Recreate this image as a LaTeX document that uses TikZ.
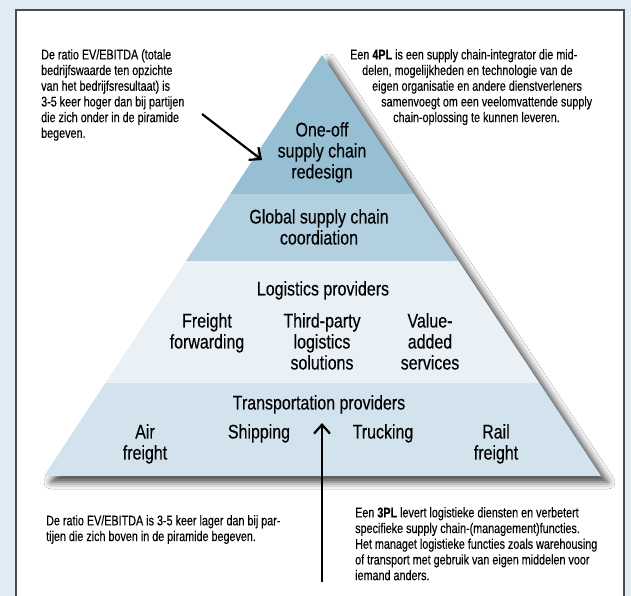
\documentclass[tikz,border=0pt]{standalone}
\usepackage{fontspec}
\setmainfont{Liberation Sans}[FakeStretch=0.77, FakeBold=0.25]
\newfontfamily\tierfont{Liberation Sans}[FakeStretch=0.81, FakeBold=0.25]
\usepackage{tikz}
\usetikzlibrary{arrows.meta,shadows.blur}

\definecolor{bgblue}{HTML}{E0ECF3}
\definecolor{tierone}{HTML}{96BFD4}
\definecolor{tiertwo}{HTML}{B3D0E1}
\definecolor{tierthree}{HTML}{E9F1F7}
\definecolor{tierfour}{HTML}{D3E3EE}

\tikzset{
  note/.style={font=\fontsize{14}{15.7}\selectfont, inner sep=0pt, align=left},
  tier/.style={font=\tierfont\fontsize{19.7}{21}\selectfont, inner sep=0pt, align=center},
  pointer/.style={-{Straight Barb[length=9pt,width=16pt]}, line width=2.2pt},
}

\begin{document}
\begin{tikzpicture}[x=1pt, y=-1pt]
  % page and frame
  \useasboundingbox[fill=bgblue] (0,0) rectangle (631,596);
  \draw[fill=white, draw=black!70, line width=1.2pt] (16,10) rectangle (624,612);
  % pyramid
  \coordinate (apex) at (322,55);
  \coordinate (bl) at (44,476);
  \coordinate (br) at (601,476);
  \path[blur shadow={shadow xshift=7pt, shadow yshift=-6pt,
    shadow blur radius=7pt, shadow opacity=75}] (apex) -- (bl) -- (br) -- cycle;
  \begin{scope}
    \clip (apex) -- (bl) -- (br) -- cycle;
    \fill[tierone] (0,40) rectangle (631,194);
    \fill[tiertwo] (0,194) rectangle (631,261);
    \fill[tierthree] (0,261) rectangle (631,383);
    \fill[tierfour] (0,383) rectangle (631,480);
  \end{scope}
  % tier labels
  \node[tier, anchor=north] (oneoff) at (322,122) {One-off\\supply chain\\redesign};
  \node[tier, anchor=north] (global) at (319,209) {Global supply chain\\coordiation};
  \node[tier, anchor=north] (logistics) at (323,281) {Logistics providers};
  \node[tier, anchor=north] (freight) at (207,313) {Freight\\forwarding};
  \node[tier, anchor=north] (thirdparty) at (322,313) {Third-party\\logistics\\solutions};
  \node[tier, anchor=north] (valueadded) at (430,313) {Value-\\added\\services};
  \node[tier, anchor=north] (transport) at (319,395) {Transportation providers};
  \node[tier, anchor=north] (air) at (145,424) {Air\\freight};
  \node[tier, anchor=north] (shipping) at (259,424) {Shipping};
  \node[tier, anchor=north] (trucking) at (383,424) {Trucking};
  \node[tier, anchor=north] (rail) at (496,424) {Rail\\freight};
  % side notes
  \node[note, anchor=north west] (evhigh) at (41,49) {De ratio EV/EBITDA (totale\\bedrijfswaarde ten opzichte\\van het bedrijfsresultaat) is\\3-5 keer hoger dan bij partijen\\die zich onder in de piramide\\begeven.};
  \node[note, anchor=north west] (fourpl) at (350,49) {Een \textbf{4PL} is een supply chain-integrator die mid-\\\hspace*{12pt}delen, mogelijkheden en technologie van de\\\hspace*{22pt}eigen organisatie en andere dienstverleners\\\hspace*{31pt}samenvoegt om een veelomvattende supply\\\hspace*{43pt}chain-oplossing te kunnen leveren.};
  \node[note, anchor=north west] (evlow) at (46,515) {De ratio EV/EBITDA is 3-5 keer lager dan bij par-\\tijen die zich boven in de piramide begeven.};
  \node[note, anchor=north west] (threepl) at (355,507) {Een \textbf{3PL} levert logistieke diensten en verbetert\\specifieke supply chain-(management)functies.\\Het managet logistieke functies zoals warehousing\\of transport met gebruik van eigen middelen voor\\iemand anders.};
  % arrows
  \coordinate (evhigh-tail) at (202,114);
  \coordinate (oneoff-tip) at (262,160);
  \draw[pointer] (evhigh-tail) -- (oneoff-tip);
  \coordinate (threepl-tail) at (322,582);
  \coordinate (transport-tip) at (322,423);
  \draw[pointer] (threepl-tail) -- (transport-tip);
\end{tikzpicture}
\end{document}
